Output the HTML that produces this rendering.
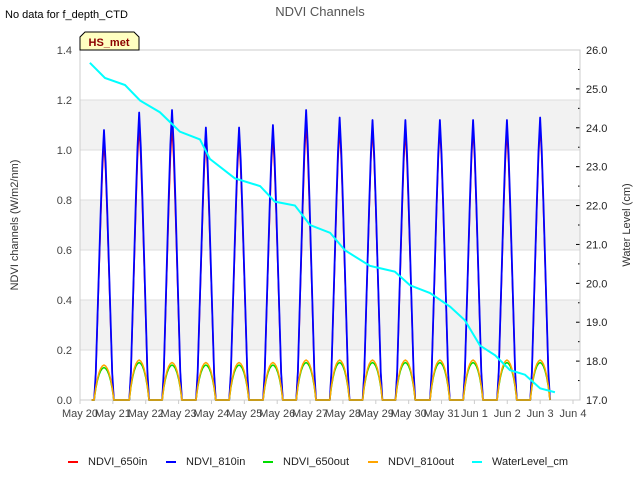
<!DOCTYPE html>
<html><head><meta charset="utf-8"><style>
body{margin:0;background:#fff;font-family:"Liberation Sans",sans-serif}
svg text{font-family:"Liberation Sans",sans-serif}
</style></head><body>
<svg id="c" width="640" height="480" xmlns="http://www.w3.org/2000/svg">
<rect width="640" height="480" fill="#fff"/>
<text x="5" y="18" font-size="11" fill="#000">No data for f_depth_CTD</text>
<text x="320" y="16" font-size="13" fill="#555" text-anchor="middle">NDVI Channels</text>
<g id="plot"></g>
<text transform="translate(18,225) rotate(-90)" font-size="11" fill="#333" text-anchor="middle">NDVI channels (W/m2/nm)</text>
<text transform="translate(630,225) rotate(-90)" font-size="11" fill="#333" text-anchor="middle">Water Level (cm)</text>
<g>
<path d="M80,50 L80,37 L85,32 L134,32 L139,37 L139,50 Z" fill="#ffffc0" stroke="#000" stroke-width="1"/>
<text x="109" y="46" font-size="11" font-weight="bold" fill="#8b0000" text-anchor="middle">HS_met</text>
</g>
<g id="legend"></g>
</svg>
<script>
const dayLabels=["May 20","May 21","May 22","May 23","May 24","May 25","May 26","May 27","May 28","May 29","May 30","May 31","Jun 1","Jun 2","Jun 3","Jun 4"];
const leftTicks=[0,0.2,0.4,0.6,0.8,1.0,1.2,1.4];
const rightTicks=[17,18,19,20,21,22,23,24,25,26];
const peakDays=[0.73,1.8,2.8,3.83,4.84,5.87,6.88,7.9,8.9,9.9,10.95,11.96,12.99,14.0];
const peak810in=[1.08,1.15,1.16,1.09,1.09,1.10,1.16,1.13,1.12,1.12,1.12,1.12,1.12,1.13];
const peak650in=[1.04,1.10,1.10,1.05,1.05,1.06,1.11,1.09,1.09,1.08,1.09,1.09,1.08,1.10];
const peak650out=[0.13,0.15,0.14,0.14,0.14,0.14,0.15,0.15,0.15,0.15,0.15,0.15,0.15,0.15];
const peak810out=[0.14,0.16,0.15,0.15,0.15,0.15,0.16,0.16,0.16,0.16,0.16,0.16,0.16,0.16];
const wlDays=[0.3,0.76,1.37,1.83,2.43,3.04,3.65,3.95,4.71,5.48,5.93,6.54,7.0,7.61,8.06,8.82,9.58,10.04,10.65,11.26,11.71,12.17,12.63,13.08,13.54,14.0,14.45];
const wlVals=[25.67,25.28,25.1,24.7,24.4,23.9,23.7,23.2,22.7,22.5,22.1,22.0,21.5,21.3,20.85,20.45,20.3,19.95,19.75,19.4,19.05,18.4,18.15,17.77,17.65,17.3,17.2];
const shapeIn=[0,0.1,0.3,0.5,0.7,0.88,1,0.88,0.7,0.5,0.3,0.1,0];
const shapeOut=[0,0.35,0.6,0.78,0.9,0.97,1,0.97,0.9,0.78,0.6,0.35,0];
const x0=80,x1=580,yT=50,yB=400;
const X=d=>x0+d*(493/15);
const YL=v=>yB-v/1.4*(yB-yT);
const YR=v=>yB-(v-17)/9*(yB-yT);
const NS="http://www.w3.org/2000/svg";
const P=document.getElementById('plot');
function mk(t,a,parent){const e=document.createElementNS(NS,t);for(const k in a)e.setAttribute(k,a[k]);(parent||P).appendChild(e);return e;}
[[0.2,0.4],[0.6,0.8],[1.0,1.2]].forEach(b=>{const r=mk('rect',{x:x0,y:YL(b[1]),width:x1-x0,height:YL(b[0])-YL(b[1]),fill:'#f2f2f2'});});
leftTicks.forEach(v=>{const l=mk('line',{x1:x0,x2:x1,y1:YL(v),y2:YL(v),stroke:'#ddd'});
const t=mk('text',{x:72,y:YL(v)+4,'font-size':11,fill:'#444','text-anchor':'end'});t.textContent=v.toFixed(1);});
rightTicks.forEach(v=>{mk('line',{x1:x1-4,x2:x1,y1:YR(v),y2:YR(v),stroke:'#000'});if(v<26)mk('line',{x1:x1-2,x2:x1,y1:YR(v+0.5),y2:YR(v+0.5),stroke:'#000'});
const t=mk('text',{x:586,y:YR(v)+4,'font-size':11,fill:'#222'});t.textContent=v.toFixed(1);});
dayLabels.forEach((s,i)=>{mk('line',{x1:X(i),x2:X(i),y1:yB,y2:yB+4,stroke:'#ccc'});const t=mk('text',{x:X(i),y:yB+17,'font-size':11,fill:'#444','text-anchor':'middle'});t.textContent=s;});
mk('rect',{x:x0,y:yT,width:x1-x0,height:yB-yT,fill:'none',stroke:'#ccc'});
function series(peaks,shape,color,name,w){let pts=[[X(0.35),YL(0)]];peakDays.forEach((pd,i)=>{shape.forEach((s,j)=>{const d=pd+(j-6)*0.05;pts.push([X(d),YL(peaks[i]*s)]);});});pts.push([X(14.3),YL(0)]);
const p=mk('polyline',{points:pts.map(p=>p.join(',')).join(' '),fill:'none',stroke:color,'stroke-width':w,'stroke-linejoin':'round'});}
series(peak650in,shapeIn,'#ff0000','series-ndvi-650in',1.5);
series(peak810in,shapeIn,'#0000ff','series-ndvi-810in',1.8);
series(peak650out,shapeOut,'#00dd00','series-ndvi-650out',1.5);
series(peak810out,shapeOut,'#ffa500','series-ndvi-810out',1.5);
const wl=mk('polyline',{points:wlDays.map((d,i)=>X(d)+','+YR(wlVals[i])).join(' '),fill:'none',stroke:'#00ffff','stroke-width':2});

const L=document.getElementById('legend');
const leg=[["NDVI_650in","#ff0000",68],["NDVI_810in","#0000ff",166],["NDVI_650out","#00dd00",263],["NDVI_810out","#ffa500",368],["WaterLevel_cm","#00ffff",472]];
leg.forEach(e=>{const g=mk('g',{},L);
mk('line',{x1:e[2],x2:e[2]+10,y1:462,y2:462,stroke:e[1],'stroke-width':2},g);const t=mk('text',{x:e[2]+20,y:465,'font-size':11,fill:'#222'},g);t.textContent=e[0];});
</script>
</body></html>
